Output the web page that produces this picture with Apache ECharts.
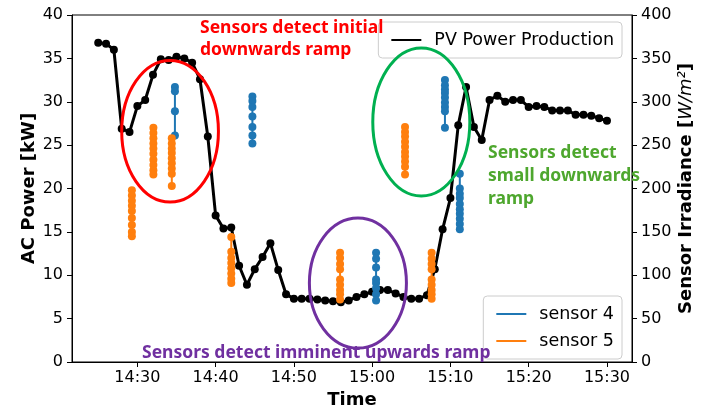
<!DOCTYPE html>
<html>
<head>
<meta charset="utf-8">
<script src="https://cdn.jsdelivr.net/npm/echarts@6/dist/echarts.min.js"></script>
<style>
html, body { margin: 0; padding: 0; background: #fff; }
#chart { width: 711px; height: 410px; }
</style>
</head>
<body>
<div id="chart"></div>
<script>
// time in minutes after 14:00
var pvTimes = [25, 26, 27, 28, 29, 30, 31, 32, 33, 34, 35, 36, 37, 38, 39, 40, 41, 42, 43, 44,
	45, 46, 47, 48, 49, 50, 51, 52, 53, 54, 55, 56, 57, 58, 59, 60, 61, 62, 63, 64,
	65, 66, 67, 68, 69, 70, 71, 72, 73, 74, 75, 76, 77, 78, 79, 80, 81, 82, 83, 84,
	85, 86, 87, 88, 89, 90];
var pvPower = [36.8, 36.7, 36.0, 26.9, 26.5, 29.5, 30.2, 33.1, 34.9, 34.8, 35.2, 35.0, 34.5, 32.6, 26.0, 16.9, 15.4, 15.5, 11.1, 8.9,
	10.7, 12.1, 13.7, 10.6, 7.8, 7.3, 7.3, 7.3, 7.2, 7.1, 7.0, 6.9, 7.1, 7.5, 7.8, 8.1, 8.3, 8.3, 7.9, 7.5,
	7.3, 7.3, 7.7, 10.7, 15.3, 18.9, 27.3, 31.7, 27.1, 25.6, 30.2, 30.7, 30.0, 30.2, 30.2, 29.4, 29.5, 29.4, 29.0, 29.0,
	29.0, 28.5, 28.5, 28.4, 28.1, 27.8];

// sensor readings (W/m2), one burst per time
var sensor4Times = [34.8, 44.7, 60.5, 69.3, 71.2];
var sensor4Values = [
	[317, 312, 289, 261],
	[306, 301, 294, 283, 271, 261, 252],
	[126, 119, 109, 95, 91, 85, 78, 71],
	[325, 319, 314, 310, 305, 299, 294, 289, 270],
	[217, 200, 194, 189, 182, 176, 171, 165, 159, 153]
];
var sensor5Times = [29.3, 32.05, 34.4, 42.0, 55.9, 64.2, 67.6];
var sensor5Values = [
	[198, 192, 186, 180, 174, 166, 158, 150, 145],
	[270, 264, 258, 252, 246, 240, 233, 227, 221, 216],
	[258, 252, 246, 241, 235, 229, 223, 217, 203],
	[144, 127, 120, 114, 108, 102, 96, 91],
	[126, 120, 113, 107, 95, 89, 83, 78, 72],
	[271, 265, 260, 254, 248, 242, 237, 231, 225, 216],
	[126, 119, 113, 107, 95, 89, 83, 78, 73]
];
var xTicks = [30, 40, 50, 60, 70, 80, 90];

// annotation ellipses: center [min, kW], half width (min), half height (kW)
var noteEllipses = [
	{ c: [34.18, 26.6], rx: 6.18, ry: 8.16, color: '#ff0000' },
	{ c: [66.28, 27.67], rx: 6.2, ry: 8.53, color: '#00b050' },
	{ c: [58.18, 9.1], rx: 6.2, ry: 7.5, color: '#7030a0' }
];

function buildBursts(times, values) {
	var data = [];
	for (var i = 0; i < times.length; i++) {
		for (var j = 0; j < values[i].length; j++) {
			data.push([times[i], values[i][j]]);
		}
		data.push([times[i], '-']);
	}
	return data;
}

function fmtTime(v) {
	var h = 14 + Math.floor(v / 60);
	var m = Math.round(v % 60);
	return h + ':' + (m < 10 ? '0' + m : m);
}

var pvData = [];
for (var i = 0; i < pvTimes.length; i++) pvData.push([pvTimes[i], pvPower[i]]);

var tickFont = { fontSize: 16, color: '#000', fontFamily: 'DejaVu Sans' };
var nameFont = { fontSize: 18, fontWeight: 'bold', color: '#000', fontFamily: 'DejaVu Sans' };
var legendBase = {
	orient: 'vertical',
	right: 89,
	icon: 'rect',
	itemWidth: 30,
	itemHeight: 2,
	itemGap: 9,
	padding: [9, 8, 9, 13],
	borderColor: '#cccccc',
	borderWidth: 1,
	borderRadius: 4,
	backgroundColor: 'rgba(255,255,255,0.8)',
	textStyle: { fontSize: 17.5, color: '#000', fontFamily: 'DejaVu Sans', padding: [0, 0, 0, 8] }
};

var chart = echarts.init(document.getElementById('chart'));
var option = {
	animation: false,
	grid: { left: 72, right: 79, top: 15, bottom: 48, show: true, borderColor: '#000', borderWidth: 1, outerBoundsMode: 'none' },
	legend: [
		Object.assign({}, legendBase, { data: ['PV Power Production'], top: 22 }),
		Object.assign({}, legendBase, { data: ['sensor 4', 'sensor 5'], top: 296 })
	],
	xAxis: {
		type: 'value',
		min: 21.65,
		max: 93.2,
		name: 'Time',
		nameLocation: 'middle',
		nameGap: 29,
		nameTextStyle: nameFont,
		axisLine: { onZero: false, lineStyle: { color: '#000' } },
		axisTick: { customValues: xTicks, length: 5, lineStyle: { color: '#000' } },
		axisLabel: Object.assign({ customValues: xTicks, formatter: fmtTime, margin: 8 }, tickFont),
		splitLine: { show: false }
	},
	yAxis: [{
		type: 'value',
		min: 0,
		max: 40,
		interval: 5,
		name: 'AC Power [kW]',
		nameLocation: 'middle',
		nameGap: 34,
		nameMoveOverlap: false,
		nameTextStyle: nameFont,
		axisLine: { show: true, lineStyle: { color: '#000' } },
		axisTick: { show: true, length: 5, lineStyle: { color: '#000' } },
		axisLabel: Object.assign({ margin: 9 }, tickFont),
		splitLine: { show: false }
	}, {
		type: 'value',
		min: 0,
		max: 400,
		interval: 50,
		position: 'right',
		name: '{n|Sensor Irradiance [}{i|W/m²}{n|]}',
		nameLocation: 'middle',
		nameRotate: 90,
		nameGap: 45,
		nameMoveOverlap: false,
		nameTextStyle: {
			rich: {
				n: { fontSize: 18, fontWeight: 'bold', color: '#000', fontFamily: 'DejaVu Sans' },
				i: { fontSize: 18, fontStyle: 'italic', color: '#000', fontFamily: 'DejaVu Sans' }
			}
		},
		axisLine: { show: true, lineStyle: { color: '#000' } },
		axisTick: { show: true, length: 5, lineStyle: { color: '#000' } },
		axisLabel: Object.assign({ margin: 9 }, tickFont),
		splitLine: { show: false }
	}],
	series: [{
		name: 'PV Power Production',
		type: 'line',
		data: pvData,
		symbol: 'circle',
		symbolSize: 8,
		itemStyle: { color: '#000' },
		lineStyle: { color: '#000', width: 3 },
		z: 3
	}, {
		name: 'sensor 4',
		type: 'line',
		yAxisIndex: 1,
		data: buildBursts(sensor4Times, sensor4Values),
		symbol: 'circle',
		symbolSize: 8,
		itemStyle: { color: '#1f77b4' },
		lineStyle: { color: '#1f77b4', width: 2 },
		z: 4
	}, {
		name: 'sensor 5',
		type: 'line',
		yAxisIndex: 1,
		data: buildBursts(sensor5Times, sensor5Values),
		symbol: 'circle',
		symbolSize: 8,
		itemStyle: { color: '#ff7f0e' },
		lineStyle: { color: '#ff7f0e', width: 2 },
		z: 4
	}]
};
chart.setOption(option);

//标注椭圆和文字
var graphics = [];
for (var k = 0; k < noteEllipses.length; k++) {
	var e = noteEllipses[k];
	var p = chart.convertToPixel({ xAxisIndex: 0, yAxisIndex: 0 }, e.c);
	var px = chart.convertToPixel({ xAxisIndex: 0, yAxisIndex: 0 }, [e.c[0] + e.rx, e.c[1] + e.ry]);
	graphics.push({
		type: 'ellipse',
		shape: { cx: p[0], cy: p[1], rx: px[0] - p[0], ry: p[1] - px[1] },
		style: { fill: 'none', stroke: e.color, lineWidth: 3 },
		z: 10
	});
}
var noteFont = 'bold 17.5px "Noto Sans"';
graphics.push({ type: 'text', x: 200, y: 28, z: 11, style: { text: 'Sensors detect initial', fill: '#ff0000', font: noteFont, verticalAlign: 'middle' } });
graphics.push({ type: 'text', x: 200, y: 50, z: 11, style: { text: 'downwards ramp', fill: '#ff0000', font: noteFont, verticalAlign: 'middle' } });
graphics.push({ type: 'text', x: 488, y: 153, z: 11, style: { text: 'Sensors detect', fill: '#4ea72e', font: noteFont, verticalAlign: 'middle' } });
graphics.push({ type: 'text', x: 488, y: 176, z: 11, style: { text: 'small downwards', fill: '#4ea72e', font: noteFont, verticalAlign: 'middle' } });
graphics.push({ type: 'text', x: 488, y: 199, z: 11, style: { text: 'ramp', fill: '#4ea72e', font: noteFont, verticalAlign: 'middle' } });
graphics.push({ type: 'text', x: 142, y: 353, z: 11, style: { text: 'Sensors detect imminent upwards ramp', fill: '#7030a0', font: noteFont, verticalAlign: 'middle' } });
chart.setOption({ graphic: graphics });
</script>
</body>
</html>
